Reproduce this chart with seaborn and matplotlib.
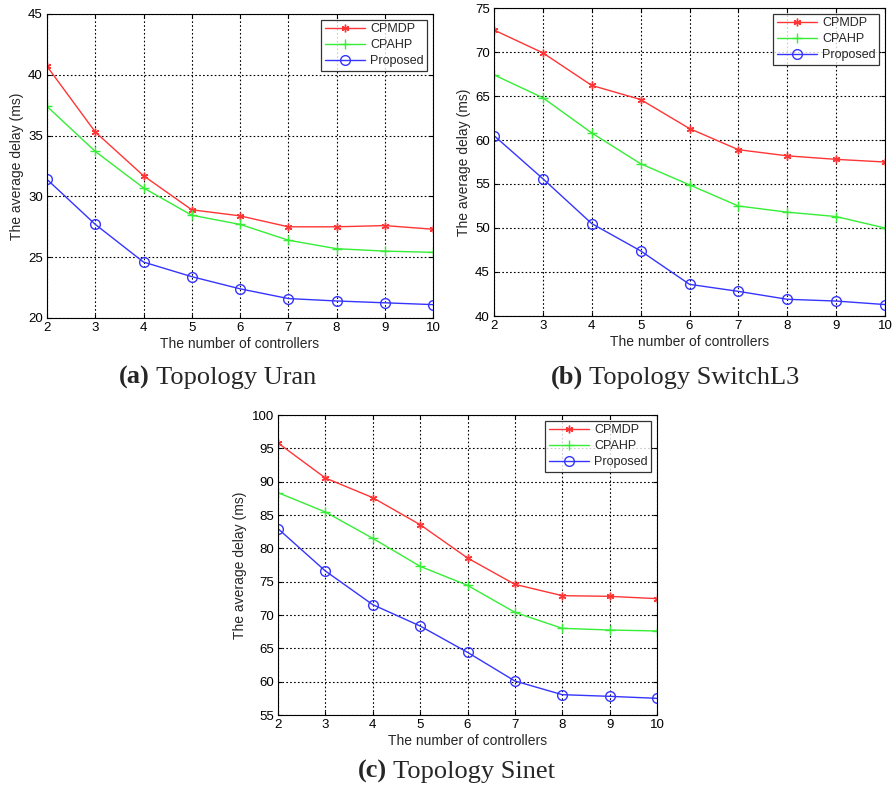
import numpy as np
import pandas as pd
import matplotlib
matplotlib.use("Agg")
import matplotlib.pyplot as plt
import seaborn as sns

controllers = [2, 3, 4, 5, 6, 7, 8, 9, 10]
series_names = ["CPMDP", "CPAHP", "Proposed"]

uran_cpmdp = [40.7, 35.3, 31.7, 28.9, 28.4, 27.5, 27.5, 27.6, 27.3]
uran_cpahp = [37.4, 33.7, 30.7, 28.45, 27.7, 26.4, 25.7, 25.5, 25.4]
uran_proposed = [31.4, 27.7, 24.6, 23.4, 22.4, 21.6, 21.4, 21.25, 21.1]

switch_cpmdp = [72.5, 69.9, 66.2, 64.6, 61.3, 58.9, 58.2, 57.8, 57.5]
switch_cpahp = [67.4, 64.8, 60.8, 57.3, 54.9, 52.5, 51.8, 51.3, 50.0]
switch_proposed = [60.5, 55.6, 50.5, 47.4, 43.6, 42.8, 41.9, 41.7, 41.3]

sinet_cpmdp = [95.8, 90.55, 87.6, 83.55, 78.55, 74.6, 72.9, 72.8, 72.45]
sinet_cpahp = [88.35, 85.45, 81.5, 77.3, 74.45, 70.4, 68.0, 67.75, 67.6]
sinet_proposed = [82.95, 76.6, 71.55, 68.35, 64.4, 60.1, 58.05, 57.8, 57.5]

y_ticks_a = [20, 25, 30, 35, 40, 45]
y_ticks_b = [40, 45, 50, 55, 60, 65, 70, 75]
y_ticks_c = [55, 60, 65, 70, 75, 80, 85, 90, 95, 100]

captions = [("(a)", " Topology Uran"), ("(b)", " Topology SwitchL3"), ("(c)", " Topology Sinet")]
xlabel = "The number of controllers"
ylabel = "The average delay (ms)"

colors = {"CPMDP": "#ff3535", "CPAHP": "#35ee35", "Proposed": "#3535ff"}
asterisk = (6, 2, 0)
markers = {"CPMDP": asterisk, "CPAHP": "+", "Proposed": "o"}
msizes = {"CPMDP": 5.5, "CPAHP": 7, "Proposed": 7}

sns.set_style("white")
plt.rcParams["font.family"] = ["Liberation Sans", "DejaVu Sans"]

fig = plt.figure(figsize=(8.94, 7.89), dpi=100)
W, H = 894.0, 789.0


def axes_px(l, t, r, b):
    return fig.add_axes([l / W, 1 - b / H, (r - l) / W, (b - t) / H])


def make_df(a, b, c):
    rows = []
    for name, vals in zip(series_names, [a, b, c]):
        for x, v in zip(controllers, vals):
            rows.append({"x": x, "y": v, "series": name})
    return pd.DataFrame(rows)


panels = [
    (axes_px(47, 14, 433, 318), make_df(uran_cpmdp, uran_cpahp, uran_proposed), y_ticks_a),
    (axes_px(494, 8, 885, 316), make_df(switch_cpmdp, switch_cpahp, switch_proposed), y_ticks_b),
    (axes_px(278, 415, 657, 715), make_df(sinet_cpmdp, sinet_cpahp, sinet_proposed), y_ticks_c),
]

for ax, df, yt in panels:
    for name in series_names:
        sub = df[df["series"] == name]
        sns.lineplot(data=sub, x="x", y="y", ax=ax, color=colors[name],
                     marker=markers[name], markersize=msizes[name],
                     markerfacecolor="none" if name == "Proposed" else colors[name],
                     markeredgecolor=colors[name], markeredgewidth=1.0,
                     linewidth=1.0, label=name)
    ax.set_xlim(2, 10)
    ax.set_ylim(yt[0], yt[-1])
    ax.set_xticks(controllers)
    ax.set_yticks(yt)
    ax.grid(True, color="black", linestyle=(0, (1.5, 2)), linewidth=0.8)
    for s in ax.spines.values():
        s.set_color("black")
        s.set_linewidth(0.8)
    ax.tick_params(axis="both", direction="in", length=3, labelsize=9.5, pad=3,
                   colors="black", top=True, right=True, bottom=True, left=True)
    ax.set_xlabel(xlabel, fontsize=10, labelpad=2)
    ax.set_ylabel(ylabel, fontsize=10, labelpad=3)
    leg = ax.legend(loc="upper right", fontsize=9, frameon=True, fancybox=False,
                    edgecolor="black", handlelength=3.2, borderaxespad=0.45,
                    labelspacing=0.3, handletextpad=0.4, borderpad=0.3)
    leg.get_frame().set_linewidth(0.9)

caption_pos = [(119, 384), (551, 384), (358, 778)]
for (bold, rest), (cx, cy) in zip(captions, caption_pos):
    t = fig.text(cx / W, 1 - cy / H, bold, fontsize=19, fontweight="bold",
                 family=["Liberation Serif", "DejaVu Serif"], va="baseline", ha="left")
    ax0 = panels[0][0]
    ax0.annotate(rest, xy=(1, 0), xycoords=t, fontsize=19,
                 family=["Liberation Serif", "DejaVu Serif"], va="bottom", ha="left",
                 annotation_clip=False)

fig.savefig("out.png", dpi=100)
